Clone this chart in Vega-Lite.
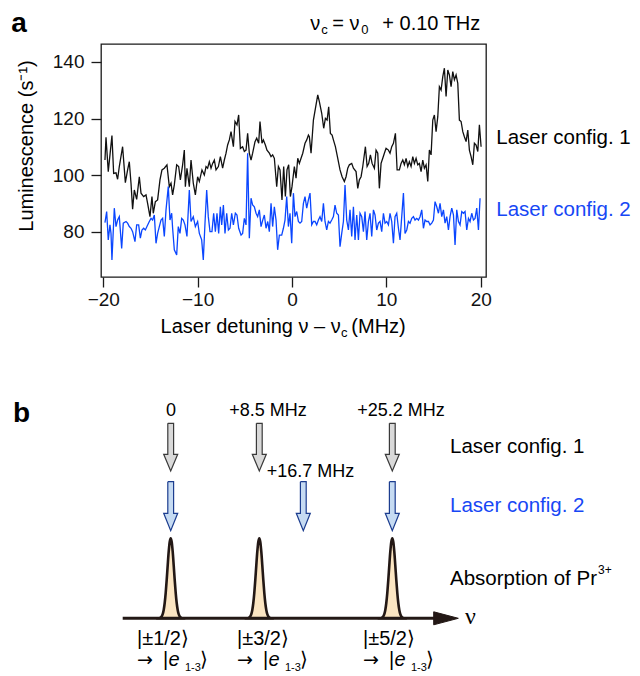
{
"$schema": "https://vega.github.io/schema/vega-lite/v6.json",
"width": 385, "height": 233,
"autosize": {"type": "none"},
"padding": {"left": 101, "top": 44, "right": 154, "bottom": 399},
"background": "white",
"config": {"view": {"stroke": "#1a1a1a", "strokeWidth": 1.3}, "font": "Liberation Sans"},
"datasets": {
"black": [{"x":-19.82,"y":105.4},{"x":-19.71,"y":113.4},{"x":-19.47,"y":101.3},{"x":-19.08,"y":114.0},{"x":-18.90,"y":100.7},{"x":-18.65,"y":100.9},{"x":-18.48,"y":98.6},{"x":-18.30,"y":103.1},{"x":-17.95,"y":110.1},{"x":-17.66,"y":97.4},{"x":-17.42,"y":101.9},{"x":-17.24,"y":104.8},{"x":-17.06,"y":97.2},{"x":-16.89,"y":88.0},{"x":-16.71,"y":94.8},{"x":-16.46,"y":91.5},{"x":-16.18,"y":99.5},{"x":-16.00,"y":93.7},{"x":-15.72,"y":92.5},{"x":-15.47,"y":93.1},{"x":-15.30,"y":90.1},{"x":-15.05,"y":85.4},{"x":-14.84,"y":92.5},{"x":-14.70,"y":86.6},{"x":-14.48,"y":90.7},{"x":-14.24,"y":91.3},{"x":-13.99,"y":98.4},{"x":-13.78,"y":101.9},{"x":-13.53,"y":102.5},{"x":-13.25,"y":103.7},{"x":-13.00,"y":96.0},{"x":-12.82,"y":97.2},{"x":-12.65,"y":93.1},{"x":-12.47,"y":96.6},{"x":-12.22,"y":103.7},{"x":-12.01,"y":103.1},{"x":-11.83,"y":98.4},{"x":-11.59,"y":103.7},{"x":-11.41,"y":108.9},{"x":-11.30,"y":96.0},{"x":-11.13,"y":102.5},{"x":-10.88,"y":96.0},{"x":-10.70,"y":105.4},{"x":-10.46,"y":97.2},{"x":-10.24,"y":93.1},{"x":-10.00,"y":99.5},{"x":-9.82,"y":97.8},{"x":-9.54,"y":101.9},{"x":-9.29,"y":100.1},{"x":-9.11,"y":103.1},{"x":-8.94,"y":102.5},{"x":-8.76,"y":104.8},{"x":-8.58,"y":102.5},{"x":-8.41,"y":104.2},{"x":-8.23,"y":105.4},{"x":-8.05,"y":101.9},{"x":-7.80,"y":103.1},{"x":-7.59,"y":106.6},{"x":-7.35,"y":102.5},{"x":-7.17,"y":105.4},{"x":-6.99,"y":107.8},{"x":-6.82,"y":110.7},{"x":-6.64,"y":112.5},{"x":-6.46,"y":115.4},{"x":-6.21,"y":110.1},{"x":-6.04,"y":119.0},{"x":-5.83,"y":117.8},{"x":-5.65,"y":121.3},{"x":-5.47,"y":109.5},{"x":-5.23,"y":110.1},{"x":-5.05,"y":108.4},{"x":-4.87,"y":108.9},{"x":-4.70,"y":114.8},{"x":-4.52,"y":107.8},{"x":-4.34,"y":105.4},{"x":-4.17,"y":107.8},{"x":-3.92,"y":111.9},{"x":-3.74,"y":113.1},{"x":-3.53,"y":111.3},{"x":-3.39,"y":119.0},{"x":-3.18,"y":111.3},{"x":-3.03,"y":112.5},{"x":-2.82,"y":110.7},{"x":-2.65,"y":108.9},{"x":-2.40,"y":107.8},{"x":-2.22,"y":106.6},{"x":-2.05,"y":107.2},{"x":-1.87,"y":106.0},{"x":-1.62,"y":96.0},{"x":-1.44,"y":103.1},{"x":-1.27,"y":101.9},{"x":-1.06,"y":91.3},{"x":-0.88,"y":103.1},{"x":-0.70,"y":92.5},{"x":-0.53,"y":101.9},{"x":-0.35,"y":103.7},{"x":-0.17,"y":92.5},{"x":0.00,"y":96.0},{"x":0.25,"y":103.1},{"x":0.43,"y":99.0},{"x":0.61,"y":106.0},{"x":0.78,"y":104.2},{"x":0.96,"y":106.0},{"x":1.14,"y":107.8},{"x":1.38,"y":111.3},{"x":1.56,"y":112.5},{"x":1.74,"y":114.2},{"x":1.84,"y":113.6},{"x":2.02,"y":107.8},{"x":2.27,"y":119.5},{"x":2.73,"y":128.4},{"x":2.90,"y":126.0},{"x":3.15,"y":121.9},{"x":3.36,"y":116.6},{"x":3.54,"y":120.1},{"x":3.72,"y":119.5},{"x":3.89,"y":124.2},{"x":4.07,"y":114.8},{"x":4.25,"y":114.2},{"x":4.39,"y":112.5},{"x":4.60,"y":110.1},{"x":4.85,"y":106.0},{"x":5.09,"y":101.9},{"x":5.31,"y":99.5},{"x":5.55,"y":97.8},{"x":5.73,"y":99.5},{"x":5.91,"y":102.5},{"x":6.08,"y":103.7},{"x":6.33,"y":104.2},{"x":6.51,"y":102.5},{"x":6.79,"y":101.3},{"x":6.97,"y":95.4},{"x":7.14,"y":98.4},{"x":7.32,"y":99.5},{"x":7.50,"y":103.1},{"x":7.78,"y":110.1},{"x":7.96,"y":103.1},{"x":8.13,"y":104.2},{"x":8.31,"y":107.2},{"x":8.49,"y":104.2},{"x":8.73,"y":102.5},{"x":8.91,"y":108.9},{"x":9.09,"y":107.8},{"x":9.26,"y":95.4},{"x":9.44,"y":104.2},{"x":9.62,"y":106.0},{"x":9.79,"y":107.8},{"x":9.97,"y":109.5},{"x":10.22,"y":108.9},{"x":10.39,"y":107.8},{"x":10.57,"y":110.1},{"x":10.75,"y":111.3},{"x":10.96,"y":114.8},{"x":11.14,"y":101.9},{"x":11.38,"y":101.9},{"x":11.56,"y":104.2},{"x":11.74,"y":105.4},{"x":11.91,"y":103.7},{"x":12.09,"y":106.0},{"x":12.27,"y":103.1},{"x":12.44,"y":104.8},{"x":12.62,"y":103.1},{"x":12.80,"y":106.6},{"x":12.97,"y":104.2},{"x":13.15,"y":106.0},{"x":13.33,"y":103.7},{"x":13.50,"y":104.2},{"x":13.68,"y":101.3},{"x":13.86,"y":105.4},{"x":14.03,"y":102.5},{"x":14.21,"y":103.7},{"x":14.39,"y":97.8},{"x":14.56,"y":108.9},{"x":14.74,"y":107.2},{"x":14.92,"y":119.5},{"x":15.09,"y":121.3},{"x":15.27,"y":115.4},{"x":15.45,"y":120.7},{"x":15.62,"y":131.3},{"x":15.80,"y":130.1},{"x":15.98,"y":134.8},{"x":16.15,"y":137.8},{"x":16.33,"y":127.8},{"x":16.51,"y":137.2},{"x":16.68,"y":135.4},{"x":16.86,"y":131.3},{"x":17.04,"y":136.6},{"x":17.21,"y":133.7},{"x":17.39,"y":135.4},{"x":17.57,"y":132.5},{"x":17.74,"y":119.5},{"x":17.92,"y":119.0},{"x":18.10,"y":115.4},{"x":18.27,"y":113.6},{"x":18.45,"y":111.9},{"x":18.63,"y":116.0},{"x":18.80,"y":108.9},{"x":18.98,"y":106.6},{"x":19.16,"y":103.7},{"x":19.33,"y":111.3},{"x":19.51,"y":110.7},{"x":19.69,"y":108.4},{"x":19.86,"y":117.8},{"x":20.04,"y":110.1}],
"blue": [{"x":-19.82,"y":83.3},{"x":-19.64,"y":87.2},{"x":-19.47,"y":77.2},{"x":-19.29,"y":82.5},{"x":-19.18,"y":79.5},{"x":-19.08,"y":70.1},{"x":-18.83,"y":88.4},{"x":-18.65,"y":81.9},{"x":-18.48,"y":84.2},{"x":-18.30,"y":85.4},{"x":-18.05,"y":74.2},{"x":-17.88,"y":83.1},{"x":-17.59,"y":83.7},{"x":-17.42,"y":83.1},{"x":-17.24,"y":81.9},{"x":-17.06,"y":81.3},{"x":-16.89,"y":80.1},{"x":-16.64,"y":76.6},{"x":-16.46,"y":82.5},{"x":-16.25,"y":82.5},{"x":-16.07,"y":77.8},{"x":-15.90,"y":80.7},{"x":-15.72,"y":81.3},{"x":-15.54,"y":80.7},{"x":-15.37,"y":81.9},{"x":-15.12,"y":83.7},{"x":-14.94,"y":84.8},{"x":-14.77,"y":84.2},{"x":-14.59,"y":86.0},{"x":-14.41,"y":76.0},{"x":-14.24,"y":79.5},{"x":-14.06,"y":81.9},{"x":-13.88,"y":84.2},{"x":-13.71,"y":84.8},{"x":-13.53,"y":78.4},{"x":-13.35,"y":87.8},{"x":-13.11,"y":96.0},{"x":-12.93,"y":84.2},{"x":-12.75,"y":86.6},{"x":-12.65,"y":81.3},{"x":-12.47,"y":73.7},{"x":-12.22,"y":71.9},{"x":-12.05,"y":81.9},{"x":-11.87,"y":79.5},{"x":-11.69,"y":84.8},{"x":-11.52,"y":84.2},{"x":-11.34,"y":82.5},{"x":-11.13,"y":78.4},{"x":-10.88,"y":94.8},{"x":-10.70,"y":83.7},{"x":-10.46,"y":85.4},{"x":-10.24,"y":81.9},{"x":-10.00,"y":83.7},{"x":-9.82,"y":79.5},{"x":-9.57,"y":77.2},{"x":-9.40,"y":70.1},{"x":-9.22,"y":83.1},{"x":-9.04,"y":94.8},{"x":-8.87,"y":85.4},{"x":-8.69,"y":80.1},{"x":-8.48,"y":80.1},{"x":-8.30,"y":86.6},{"x":-8.12,"y":80.1},{"x":-7.95,"y":86.6},{"x":-7.77,"y":79.5},{"x":-7.59,"y":88.9},{"x":-7.45,"y":82.5},{"x":-7.27,"y":89.5},{"x":-7.10,"y":79.5},{"x":-6.92,"y":86.6},{"x":-6.74,"y":80.7},{"x":-6.57,"y":81.3},{"x":-6.39,"y":86.6},{"x":-6.21,"y":82.5},{"x":-6.00,"y":86.6},{"x":-5.83,"y":86.0},{"x":-5.65,"y":81.3},{"x":-5.40,"y":78.9},{"x":-5.23,"y":79.5},{"x":-5.05,"y":84.8},{"x":-4.87,"y":82.5},{"x":-4.70,"y":107.8},{"x":-4.52,"y":77.8},{"x":-4.34,"y":91.9},{"x":-4.17,"y":89.5},{"x":-3.99,"y":88.9},{"x":-3.81,"y":86.6},{"x":-3.64,"y":85.4},{"x":-3.46,"y":87.8},{"x":-3.28,"y":81.9},{"x":-3.10,"y":84.2},{"x":-2.93,"y":86.0},{"x":-2.75,"y":81.3},{"x":-2.57,"y":83.7},{"x":-2.40,"y":80.1},{"x":-2.22,"y":90.1},{"x":-2.05,"y":81.9},{"x":-1.87,"y":88.9},{"x":-1.69,"y":84.2},{"x":-1.52,"y":73.7},{"x":-1.34,"y":78.9},{"x":-1.09,"y":78.9},{"x":-0.91,"y":81.3},{"x":-0.74,"y":84.2},{"x":-0.56,"y":92.5},{"x":-0.38,"y":81.9},{"x":-0.21,"y":86.6},{"x":-0.03,"y":76.0},{"x":0.15,"y":93.7},{"x":0.32,"y":85.4},{"x":0.50,"y":87.2},{"x":0.68,"y":83.7},{"x":0.85,"y":83.1},{"x":1.03,"y":83.7},{"x":1.21,"y":90.1},{"x":1.38,"y":92.5},{"x":1.56,"y":88.4},{"x":1.74,"y":91.3},{"x":1.91,"y":93.7},{"x":2.09,"y":82.5},{"x":2.27,"y":83.7},{"x":2.44,"y":83.7},{"x":2.62,"y":82.5},{"x":2.80,"y":84.2},{"x":2.97,"y":85.4},{"x":3.15,"y":83.7},{"x":3.33,"y":90.1},{"x":3.50,"y":83.7},{"x":3.68,"y":80.7},{"x":3.86,"y":83.7},{"x":4.03,"y":83.1},{"x":4.21,"y":84.2},{"x":4.39,"y":85.4},{"x":4.56,"y":89.5},{"x":4.74,"y":86.6},{"x":4.92,"y":86.0},{"x":5.09,"y":74.8},{"x":5.27,"y":79.5},{"x":5.45,"y":83.7},{"x":5.62,"y":96.6},{"x":5.80,"y":84.2},{"x":5.98,"y":80.7},{"x":6.15,"y":87.8},{"x":6.33,"y":78.4},{"x":6.51,"y":88.9},{"x":6.68,"y":77.2},{"x":6.86,"y":86.0},{"x":7.04,"y":77.2},{"x":7.21,"y":86.6},{"x":7.39,"y":85.4},{"x":7.57,"y":80.1},{"x":7.74,"y":87.2},{"x":7.92,"y":77.2},{"x":8.10,"y":83.7},{"x":8.27,"y":86.6},{"x":8.45,"y":78.4},{"x":8.63,"y":87.8},{"x":8.80,"y":86.0},{"x":8.98,"y":80.7},{"x":9.16,"y":83.1},{"x":9.33,"y":83.7},{"x":9.51,"y":80.1},{"x":9.69,"y":86.6},{"x":9.86,"y":83.1},{"x":10.04,"y":83.7},{"x":10.22,"y":82.5},{"x":10.39,"y":86.6},{"x":10.57,"y":83.7},{"x":10.75,"y":76.0},{"x":10.92,"y":85.4},{"x":11.10,"y":86.6},{"x":11.28,"y":81.3},{"x":11.45,"y":77.2},{"x":11.63,"y":85.4},{"x":11.81,"y":93.7},{"x":11.98,"y":79.5},{"x":12.16,"y":80.7},{"x":12.34,"y":83.7},{"x":12.51,"y":83.1},{"x":12.69,"y":84.8},{"x":12.87,"y":85.4},{"x":13.04,"y":84.2},{"x":13.22,"y":84.8},{"x":13.40,"y":84.2},{"x":13.57,"y":85.4},{"x":13.75,"y":87.8},{"x":13.93,"y":81.3},{"x":14.10,"y":84.2},{"x":14.28,"y":83.7},{"x":14.46,"y":83.7},{"x":14.63,"y":82.5},{"x":14.81,"y":83.1},{"x":14.99,"y":84.2},{"x":15.16,"y":90.7},{"x":15.34,"y":88.9},{"x":15.52,"y":86.6},{"x":15.69,"y":90.1},{"x":15.87,"y":85.4},{"x":16.05,"y":87.8},{"x":16.22,"y":83.1},{"x":16.40,"y":85.4},{"x":16.58,"y":80.7},{"x":16.75,"y":85.4},{"x":16.93,"y":88.4},{"x":17.11,"y":86.0},{"x":17.28,"y":75.4},{"x":17.46,"y":87.8},{"x":17.64,"y":83.7},{"x":17.81,"y":82.5},{"x":17.99,"y":87.2},{"x":18.17,"y":86.6},{"x":18.34,"y":87.2},{"x":18.52,"y":80.7},{"x":18.70,"y":84.8},{"x":18.87,"y":83.7},{"x":19.05,"y":86.6},{"x":19.23,"y":84.2},{"x":19.40,"y":84.8},{"x":19.58,"y":88.4},{"x":19.76,"y":80.7},{"x":19.93,"y":91.9}],
"ta": [
{"k":"panel","t":"a","x":-29.75,"y":150.6},
{"k":"title","t":"ν","x":1.94,"y":151.3},
{"k":"title","t":"= ν","x":4.27,"y":151.3},
{"k":"title","t":"+ 0.10 THz","x":9.57,"y":151.3},
{"k":"sub","t":"c","x":3.11,"y":149.9},
{"k":"sub","t":"0","x":7.35,"y":149.9},
{"k":"leg1","t":"Laser config. 1","x":21.65,"y":113.2},
{"k":"leg2","t":"Laser config. 2","x":21.65,"y":87.8},
{"k":"ytitle","t":"Luminescence (s⁻¹)","x":-28.06,"y":110.35},
{"k":"xt1","t":"Laser detuning ν – ν","x":5.16,"y":46.46},
{"k":"xt2","t":"(MHz)","x":6.29,"y":46.46},
{"k":"xsub","t":"c","x":5.2,"y":44.3}
],
"tb": [
{"k":"panel","t":"b","u":-15.77,"v":19.63},
{"k":"mhz","t":"0","u":0.03,"v":20.73},
{"k":"mhz","t":"+8.5 MHz","u":9.73,"v":20.73},
{"k":"mhz","t":"+25.2 MHz","u":23.03,"v":20.73},
{"k":"mhz","t":"+16.7 MHz","u":13.98,"v":14.68},
{"k":"lab","t":"Laser config. 1","u":27.93,"v":17.16},
{"k":"lab","t":"Absorption of Pr","u":27.93,"v":3.93},
{"k":"lab2","t":"Laser config. 2","u":27.93,"v":11.26},
{"k":"sup","t":"3+","u":42.73,"v":4.83},
{"k":"nu","t":"ν","u":29.43,"v":0.13},
{"k":"ket","t":"|±1/2⟩","u":-3.37,"v":-2.07},
{"k":"ket","t":"|±3/2⟩","u":6.63,"v":-2.07},
{"k":"ket","t":"|±5/2⟩","u":19.23,"v":-2.07},
{"k":"arr","t":"→","u":-3.37,"v":-4.2},
{"k":"arr","t":"→","u":6.63,"v":-4.2},
{"k":"arr","t":"→","u":19.23,"v":-4.2},
{"k":"ket","t":"|","u":-0.77,"v":-4.2},
{"k":"ket","t":"|","u":9.23,"v":-4.2},
{"k":"ket","t":"|","u":21.83,"v":-4.2},
{"k":"ital","t":"e","u":-0.22,"v":-4.2},
{"k":"ital","t":"e","u":9.78,"v":-4.2},
{"k":"ital","t":"e","u":22.38,"v":-4.2},
{"k":"ksub","t":"1-3","u":1.43,"v":-4.97},
{"k":"ksub","t":"1-3","u":11.43,"v":-4.97},
{"k":"ksub","t":"1-3","u":24.03,"v":-4.97},
{"k":"ket","t":"⟩","u":2.93,"v":-4.2},
{"k":"ket","t":"⟩","u":12.93,"v":-4.2},
{"k":"ket","t":"⟩","u":25.53,"v":-4.2}
],
"peaks": [
{"p":1,"u":-1.1,"v":0},{"p":1,"u":-1.0,"v":0.08},{"p":1,"u":-0.9,"v":0.19},{"p":1,"u":-0.8,"v":0.42},{"p":1,"u":-0.7,"v":0.84},{"p":1,"u":-0.6,"v":1.53},{"p":1,"u":-0.5,"v":2.54},{"p":1,"u":-0.4,"v":3.84},{"p":1,"u":-0.3,"v":5.30},{"p":1,"u":-0.2,"v":6.66},{"p":1,"u":-0.1,"v":7.64},{"p":1,"u":0,"v":8.0},{"p":1,"u":0.1,"v":7.64},{"p":1,"u":0.2,"v":6.66},{"p":1,"u":0.3,"v":5.30},{"p":1,"u":0.4,"v":3.84},{"p":1,"u":0.5,"v":2.54},{"p":1,"u":0.6,"v":1.53},{"p":1,"u":0.7,"v":0.84},{"p":1,"u":0.8,"v":0.42},{"p":1,"u":0.9,"v":0.19},{"p":1,"u":1.0,"v":0.08},{"p":1,"u":1.1,"v":0},
{"p":2,"u":7.76,"v":0},{"p":2,"u":7.86,"v":0.08},{"p":2,"u":7.96,"v":0.19},{"p":2,"u":8.06,"v":0.42},{"p":2,"u":8.16,"v":0.84},{"p":2,"u":8.26,"v":1.53},{"p":2,"u":8.36,"v":2.54},{"p":2,"u":8.46,"v":3.84},{"p":2,"u":8.56,"v":5.30},{"p":2,"u":8.66,"v":6.66},{"p":2,"u":8.76,"v":7.64},{"p":2,"u":8.86,"v":8.0},{"p":2,"u":8.96,"v":7.64},{"p":2,"u":9.06,"v":6.66},{"p":2,"u":9.16,"v":5.30},{"p":2,"u":9.26,"v":3.84},{"p":2,"u":9.36,"v":2.54},{"p":2,"u":9.46,"v":1.53},{"p":2,"u":9.56,"v":0.84},{"p":2,"u":9.66,"v":0.42},{"p":2,"u":9.76,"v":0.19},{"p":2,"u":9.86,"v":0.08},{"p":2,"u":9.96,"v":0},
{"p":3,"u":21.06,"v":0},{"p":3,"u":21.16,"v":0.08},{"p":3,"u":21.26,"v":0.19},{"p":3,"u":21.36,"v":0.42},{"p":3,"u":21.46,"v":0.84},{"p":3,"u":21.56,"v":1.53},{"p":3,"u":21.66,"v":2.54},{"p":3,"u":21.76,"v":3.84},{"p":3,"u":21.86,"v":5.30},{"p":3,"u":21.96,"v":6.66},{"p":3,"u":22.06,"v":7.64},{"p":3,"u":22.16,"v":8.0},{"p":3,"u":22.26,"v":7.64},{"p":3,"u":22.36,"v":6.66},{"p":3,"u":22.46,"v":5.30},{"p":3,"u":22.56,"v":3.84},{"p":3,"u":22.66,"v":2.54},{"p":3,"u":22.76,"v":1.53},{"p":3,"u":22.86,"v":0.84},{"p":3,"u":22.96,"v":0.42},{"p":3,"u":23.06,"v":0.19},{"p":3,"u":23.16,"v":0.08},{"p":3,"u":23.26,"v":0}
],
"arrows": [
{"cfg":1,"id":"g1","i":1,"u":-0.29,"v":19.5},{"cfg":1,"id":"g1","i":2,"u":0.29,"v":19.5},{"cfg":1,"id":"g1","i":3,"u":0.29,"v":16.4},{"cfg":1,"id":"g1","i":4,"u":0.7,"v":16.4},{"cfg":1,"id":"g1","i":5,"u":0,"v":14.73},{"cfg":1,"id":"g1","i":6,"u":-0.7,"v":16.4},{"cfg":1,"id":"g1","i":7,"u":-0.29,"v":16.4},{"cfg":1,"id":"g1","i":8,"u":-0.29,"v":19.5},
{"cfg":1,"id":"g2","i":1,"u":8.57,"v":19.5},{"cfg":1,"id":"g2","i":2,"u":9.15,"v":19.5},{"cfg":1,"id":"g2","i":3,"u":9.15,"v":16.4},{"cfg":1,"id":"g2","i":4,"u":9.56,"v":16.4},{"cfg":1,"id":"g2","i":5,"u":8.86,"v":14.73},{"cfg":1,"id":"g2","i":6,"u":8.16,"v":16.4},{"cfg":1,"id":"g2","i":7,"u":8.57,"v":16.4},{"cfg":1,"id":"g2","i":8,"u":8.57,"v":19.5},
{"cfg":1,"id":"g3","i":1,"u":21.87,"v":19.5},{"cfg":1,"id":"g3","i":2,"u":22.45,"v":19.5},{"cfg":1,"id":"g3","i":3,"u":22.45,"v":16.4},{"cfg":1,"id":"g3","i":4,"u":22.86,"v":16.4},{"cfg":1,"id":"g3","i":5,"u":22.16,"v":14.73},{"cfg":1,"id":"g3","i":6,"u":21.46,"v":16.4},{"cfg":1,"id":"g3","i":7,"u":21.87,"v":16.4},{"cfg":1,"id":"g3","i":8,"u":21.87,"v":19.5},
{"cfg":2,"id":"b1","i":1,"u":-0.29,"v":13.66},{"cfg":2,"id":"b1","i":2,"u":0.29,"v":13.66},{"cfg":2,"id":"b1","i":3,"u":0.29,"v":10.5},{"cfg":2,"id":"b1","i":4,"u":0.7,"v":10.5},{"cfg":2,"id":"b1","i":5,"u":0,"v":8.76},{"cfg":2,"id":"b1","i":6,"u":-0.7,"v":10.5},{"cfg":2,"id":"b1","i":7,"u":-0.29,"v":10.5},{"cfg":2,"id":"b1","i":8,"u":-0.29,"v":13.66},
{"cfg":2,"id":"b2","i":1,"u":12.97,"v":13.66},{"cfg":2,"id":"b2","i":2,"u":13.55,"v":13.66},{"cfg":2,"id":"b2","i":3,"u":13.55,"v":10.5},{"cfg":2,"id":"b2","i":4,"u":13.96,"v":10.5},{"cfg":2,"id":"b2","i":5,"u":13.26,"v":8.76},{"cfg":2,"id":"b2","i":6,"u":12.56,"v":10.5},{"cfg":2,"id":"b2","i":7,"u":12.97,"v":10.5},{"cfg":2,"id":"b2","i":8,"u":12.97,"v":13.66},
{"cfg":2,"id":"b3","i":1,"u":21.87,"v":13.66},{"cfg":2,"id":"b3","i":2,"u":22.45,"v":13.66},{"cfg":2,"id":"b3","i":3,"u":22.45,"v":10.5},{"cfg":2,"id":"b3","i":4,"u":22.86,"v":10.5},{"cfg":2,"id":"b3","i":5,"u":22.16,"v":8.76},{"cfg":2,"id":"b3","i":6,"u":21.46,"v":10.5},{"cfg":2,"id":"b3","i":7,"u":21.87,"v":10.5},{"cfg":2,"id":"b3","i":8,"u":21.87,"v":13.66}
],
"axisline": [{"u":-4.8,"v":0},{"u":26.8,"v":0}],
"axishead": [{"i":1,"u":26.3,"v":0.65},{"i":2,"u":28.76,"v":0},{"i":3,"u":26.3,"v":-0.65},{"i":4,"u":26.3,"v":0.65}]
},
"layer": [
{
"encoding": {
"x": {"field": "x", "type": "quantitative", "scale": {"domain": [-20.24, 20.56], "nice": false, "zero": false},
"axis": {"values": [-20, -10, 0, 10, 20], "title": null, "domain": false, "grid": false, "tickSize": 10, "tickWidth": 1.3, "tickColor": "#1a1a1a", "labelFont": "Liberation Sans", "labelFontSize": 19, "labelColor": "#111111", "labelPadding": 3, "labelFlush": false, "labelOverlap": false}},
"y": {"field": "y", "type": "quantitative", "scale": {"domain": [64.1, 146.35], "nice": false, "zero": false},
"axis": {"values": [80, 100, 120, 140], "title": null, "domain": false, "grid": false, "tickSize": 10, "tickWidth": 1.3, "tickColor": "#1a1a1a", "labelFont": "Liberation Sans", "labelFontSize": 19, "labelColor": "#111111", "labelPadding": 7, "labelOverlap": false}}
},
"layer": [
{"data": {"name": "black"}, "mark": {"type": "line", "color": "#111111", "strokeWidth": 1.3}, "encoding": {}},
{"data": {"name": "blue"}, "mark": {"type": "line", "color": "#0a46ff", "strokeWidth": 1.3}, "encoding": {}},
{"data": {"name": "ta"}, "transform": [{"filter": "datum.k === 'panel'"}], "mark": {"type": "text", "font": "Liberation Sans", "fontSize": 28, "fontWeight": "bold", "align": "left", "baseline": "alphabetic", "color": "#000000"}, "encoding": {"text": {"field": "t"}}},
{"data": {"name": "ta"}, "transform": [{"filter": "datum.k === 'title'"}], "mark": {"type": "text", "font": "Liberation Sans", "fontSize": 20, "align": "left", "baseline": "alphabetic", "color": "#000000"}, "encoding": {"text": {"field": "t"}}},
{"data": {"name": "ta"}, "transform": [{"filter": "datum.k === 'sub'"}], "mark": {"type": "text", "font": "Liberation Sans", "fontSize": 13, "align": "left", "baseline": "alphabetic", "color": "#000000"}, "encoding": {"text": {"field": "t"}}},
{"data": {"name": "ta"}, "transform": [{"filter": "datum.k === 'leg1'"}], "mark": {"type": "text", "font": "Liberation Sans", "fontSize": 20.5, "align": "left", "baseline": "middle", "color": "#000000"}, "encoding": {"text": {"field": "t"}}},
{"data": {"name": "ta"}, "transform": [{"filter": "datum.k === 'leg2'"}], "mark": {"type": "text", "font": "Liberation Sans", "fontSize": 20.5, "align": "left", "baseline": "middle", "color": "#1747f5"}, "encoding": {"text": {"field": "t"}}},
{"data": {"name": "ta"}, "transform": [{"filter": "datum.k === 'ytitle'"}], "mark": {"type": "text", "font": "Liberation Sans", "fontSize": 20, "align": "center", "baseline": "middle", "angle": 270, "color": "#000000"}, "encoding": {"text": {"field": "t"}}},
{"data": {"name": "ta"}, "transform": [{"filter": "datum.k === 'xt1'"}], "mark": {"type": "text", "font": "Liberation Sans", "fontSize": 20, "align": "right", "baseline": "middle", "color": "#000000"}, "encoding": {"text": {"field": "t"}}},
{"data": {"name": "ta"}, "transform": [{"filter": "datum.k === 'xt2'"}], "mark": {"type": "text", "font": "Liberation Sans", "fontSize": 20, "align": "left", "baseline": "middle", "color": "#000000"}, "encoding": {"text": {"field": "t"}}},
{"data": {"name": "ta"}, "transform": [{"filter": "datum.k === 'xsub'"}], "mark": {"type": "text", "font": "Liberation Sans", "fontSize": 13, "align": "left", "baseline": "middle", "color": "#000000"}, "encoding": {"text": {"field": "t"}}}
]
},
{
"encoding": {
"x": {"field": "u", "type": "quantitative", "scale": {"domain": [-6.97, 31.53], "nice": false, "zero": false}, "axis": null},
"y": {"field": "v", "type": "quantitative", "scale": {"domain": [34.13, 57.43], "nice": false, "zero": false}, "axis": null}
},
"layer": [
{"data": {"name": "peaks"}, "mark": {"type": "area", "fill": "#fbe5c2", "stroke": "#231815", "strokeWidth": 2.6, "interpolate": "monotone"}, "encoding": {"y": {"field": "v", "type": "quantitative", "stack": null}, "y2": {"datum": 0}, "detail": {"field": "p"}}},
{"data": {"name": "axisline"}, "mark": {"type": "line", "color": "#231815", "strokeWidth": 3}, "encoding": {}},
{"data": {"name": "axishead"}, "mark": {"type": "line", "fill": "#231815", "stroke": "#231815", "strokeWidth": 1}, "encoding": {"order": {"field": "i"}}},
{"data": {"name": "arrows"}, "transform": [{"filter": "datum.cfg === 1"}], "mark": {"type": "line", "fill": "#d9d9d9", "stroke": "#3a3a3a", "strokeWidth": 1.2, "strokeJoin": "miter"}, "encoding": {"detail": {"field": "id"}, "order": {"field": "i"}}},
{"data": {"name": "arrows"}, "transform": [{"filter": "datum.cfg === 2"}], "mark": {"type": "line", "fill": "#c6dbf2", "stroke": "#1c3d8f", "strokeWidth": 1.2, "strokeJoin": "miter"}, "encoding": {"detail": {"field": "id"}, "order": {"field": "i"}}},
{"data": {"name": "tb"}, "transform": [{"filter": "datum.k === 'panel'"}], "mark": {"type": "text", "font": "Liberation Sans", "fontSize": 28, "fontWeight": "bold", "align": "left", "baseline": "alphabetic", "color": "#000000"}, "encoding": {"text": {"field": "t"}}},
{"data": {"name": "tb"}, "transform": [{"filter": "datum.k === 'mhz'"}], "mark": {"type": "text", "font": "Liberation Sans", "fontSize": 18, "align": "center", "baseline": "middle", "color": "#000000"}, "encoding": {"text": {"field": "t"}}},
{"data": {"name": "tb"}, "transform": [{"filter": "datum.k === 'lab'"}], "mark": {"type": "text", "font": "Liberation Sans", "fontSize": 20.5, "align": "left", "baseline": "middle", "color": "#000000"}, "encoding": {"text": {"field": "t"}}},
{"data": {"name": "tb"}, "transform": [{"filter": "datum.k === 'lab2'"}], "mark": {"type": "text", "font": "Liberation Sans", "fontSize": 20.5, "align": "left", "baseline": "middle", "color": "#1747f5"}, "encoding": {"text": {"field": "t"}}},
{"data": {"name": "tb"}, "transform": [{"filter": "datum.k === 'sup'"}], "mark": {"type": "text", "font": "Liberation Sans", "fontSize": 12, "align": "left", "baseline": "middle", "color": "#000000"}, "encoding": {"text": {"field": "t"}}},
{"data": {"name": "tb"}, "transform": [{"filter": "datum.k === 'nu'"}], "mark": {"type": "text", "font": "Liberation Serif", "fontSize": 24, "align": "left", "baseline": "middle", "color": "#000000"}, "encoding": {"text": {"field": "t"}}},
{"data": {"name": "tb"}, "transform": [{"filter": "datum.k === 'ket'"}], "mark": {"type": "text", "font": "Liberation Sans", "fontSize": 20, "align": "left", "baseline": "middle", "color": "#000000"}, "encoding": {"text": {"field": "t"}}},
{"data": {"name": "tb"}, "transform": [{"filter": "datum.k === 'arr'"}], "mark": {"type": "text", "font": "DejaVu Sans", "fontSize": 19, "align": "left", "baseline": "middle", "color": "#000000"}, "encoding": {"text": {"field": "t"}}},
{"data": {"name": "tb"}, "transform": [{"filter": "datum.k === 'ital'"}], "mark": {"type": "text", "font": "Liberation Sans", "fontSize": 20, "fontStyle": "italic", "align": "left", "baseline": "middle", "color": "#000000"}, "encoding": {"text": {"field": "t"}}},
{"data": {"name": "tb"}, "transform": [{"filter": "datum.k === 'ksub'"}], "mark": {"type": "text", "font": "Liberation Sans", "fontSize": 11, "align": "left", "baseline": "middle", "color": "#000000"}, "encoding": {"text": {"field": "t"}}}
]
}
],
"resolve": {"scale": {"x": "independent", "y": "independent"}}
}
